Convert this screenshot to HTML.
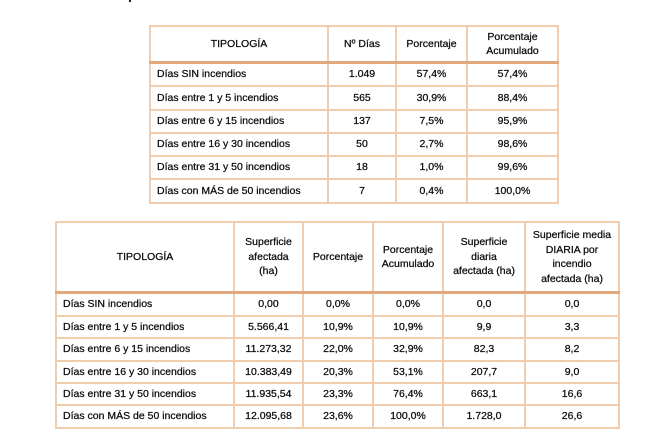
<!DOCTYPE html>
<html><head><meta charset="utf-8">
<style>
html,body{margin:0;padding:0;background:#fff;}
body{width:657px;height:442px;position:relative;overflow:hidden;font-family:"Liberation Sans",Arial,sans-serif;font-size:10.5px;color:#0c0c0c;-webkit-text-stroke:0.25px #0c0c0c;}
.v,.h{position:absolute;background:#f1cdae;}
.v{width:2px;}
.h{height:2px;}
.k{position:absolute;background:#e2a87c;height:3px;}
.c{position:absolute;display:flex;align-items:center;justify-content:center;text-align:center;line-height:14.5px;white-space:nowrap;}
.l{justify-content:flex-start;}
</style></head><body>
<div style="position:absolute;left:129px;top:0;width:2px;height:2px;background:#222;"></div>

<!-- TABLE 1 lines -->
<div class="v" style="left:149px;top:25px;height:179px"></div>
<div class="v" style="left:327px;top:25px;height:179px"></div>
<div class="v" style="left:395px;top:25px;height:179px"></div>
<div class="v" style="left:466px;top:25px;height:179px"></div>
<div class="v" style="left:557px;top:25px;height:179px"></div>
<div class="h" style="left:149px;top:25px;width:410px"></div>
<div class="k" style="left:149px;top:61px;width:410px"></div>
<div class="h" style="left:149px;top:85px;width:410px"></div>
<div class="h" style="left:149px;top:109px;width:410px"></div>
<div class="h" style="left:149px;top:132px;width:410px"></div>
<div class="h" style="left:149px;top:155px;width:410px"></div>
<div class="h" style="left:149px;top:178px;width:410px"></div>
<div class="h" style="left:149px;top:202px;width:410px"></div>

<!-- TABLE 1 text -->
<div class="c" style="left:151px;top:27px;width:176px;height:34px">TIPOLOGÍA</div>
<div class="c" style="left:329px;top:27px;width:66px;height:34px">Nº Días</div>
<div class="c" style="left:397px;top:27px;width:69px;height:34px">Porcentaje</div>
<div class="c" style="left:468px;top:27px;width:89px;height:34px">Porcentaje<br>Acumulado</div>

<div class="c l" style="left:157px;top:64px;width:170px;height:21px">Días SIN incendios</div>
<div class="c" style="left:329px;top:64px;width:66px;height:21px">1.049</div>
<div class="c" style="left:397px;top:64px;width:69px;height:21px">57,4%</div>
<div class="c" style="left:468px;top:64px;width:89px;height:21px">57,4%</div>

<div class="c l" style="left:157px;top:87px;width:170px;height:22px">Días entre 1 y 5 incendios</div>
<div class="c" style="left:329px;top:87px;width:66px;height:22px">565</div>
<div class="c" style="left:397px;top:87px;width:69px;height:22px">30,9%</div>
<div class="c" style="left:468px;top:87px;width:89px;height:22px">88,4%</div>

<div class="c l" style="left:157px;top:111px;width:170px;height:21px">Días entre 6 y 15 incendios</div>
<div class="c" style="left:329px;top:111px;width:66px;height:21px">137</div>
<div class="c" style="left:397px;top:111px;width:69px;height:21px">7,5%</div>
<div class="c" style="left:468px;top:111px;width:89px;height:21px">95,9%</div>

<div class="c l" style="left:157px;top:134px;width:170px;height:21px">Días entre 16 y 30 incendios</div>
<div class="c" style="left:329px;top:134px;width:66px;height:21px">50</div>
<div class="c" style="left:397px;top:134px;width:69px;height:21px">2,7%</div>
<div class="c" style="left:468px;top:134px;width:89px;height:21px">98,6%</div>

<div class="c l" style="left:157px;top:157px;width:170px;height:21px">Días entre 31 y 50 incendios</div>
<div class="c" style="left:329px;top:157px;width:66px;height:21px">18</div>
<div class="c" style="left:397px;top:157px;width:69px;height:21px">1,0%</div>
<div class="c" style="left:468px;top:157px;width:89px;height:21px">99,6%</div>

<div class="c l" style="left:157px;top:180px;width:170px;height:22px">Días con MÁS de 50 incendios</div>
<div class="c" style="left:329px;top:180px;width:66px;height:22px">7</div>
<div class="c" style="left:397px;top:180px;width:69px;height:22px">0,4%</div>
<div class="c" style="left:468px;top:180px;width:89px;height:22px">100,0%</div>

<!-- TABLE 2 lines -->
<div class="v" style="left:55px;top:221px;height:208px"></div>
<div class="v" style="left:233px;top:221px;height:208px"></div>
<div class="v" style="left:302px;top:221px;height:208px"></div>
<div class="v" style="left:372px;top:221px;height:208px"></div>
<div class="v" style="left:442px;top:221px;height:208px"></div>
<div class="v" style="left:524px;top:221px;height:208px"></div>
<div class="v" style="left:618px;top:221px;height:208px"></div>
<div class="h" style="left:55px;top:221px;width:565px"></div>
<div class="k" style="left:55px;top:291px;width:565px"></div>
<div class="h" style="left:55px;top:315px;width:565px"></div>
<div class="h" style="left:55px;top:337px;width:565px"></div>
<div class="h" style="left:55px;top:360px;width:565px"></div>
<div class="h" style="left:55px;top:382px;width:565px"></div>
<div class="h" style="left:55px;top:404px;width:565px"></div>
<div class="h" style="left:55px;top:427px;width:565px"></div>

<!-- TABLE 2 text -->
<div class="c" style="left:57px;top:223px;width:176px;height:68px">TIPOLOGÍA</div>
<div class="c" style="left:235px;top:223px;width:67px;height:68px">Superficie<br>afectada<br>(ha)</div>
<div class="c" style="left:304px;top:223px;width:68px;height:68px">Porcentaje</div>
<div class="c" style="left:374px;top:223px;width:68px;height:68px">Porcentaje<br>Acumulado</div>
<div class="c" style="left:444px;top:223px;width:80px;height:68px">Superficie<br>diaria<br>afectada (ha)</div>
<div class="c" style="left:526px;top:223px;width:92px;height:68px">Superficie media<br>DIARIA por<br>incendio<br>afectada (ha)</div>

<div class="c l" style="left:63px;top:294px;width:170px;height:21px">Días SIN incendios</div>
<div class="c" style="left:235px;top:294px;width:67px;height:21px">0,00</div>
<div class="c" style="left:304px;top:294px;width:68px;height:21px">0,0%</div>
<div class="c" style="left:374px;top:294px;width:68px;height:21px">0,0%</div>
<div class="c" style="left:444px;top:294px;width:80px;height:21px">0,0</div>
<div class="c" style="left:526px;top:294px;width:92px;height:21px">0,0</div>

<div class="c l" style="left:63px;top:317px;width:170px;height:20px">Días entre 1 y 5 incendios</div>
<div class="c" style="left:235px;top:317px;width:67px;height:20px">5.566,41</div>
<div class="c" style="left:304px;top:317px;width:68px;height:20px">10,9%</div>
<div class="c" style="left:374px;top:317px;width:68px;height:20px">10,9%</div>
<div class="c" style="left:444px;top:317px;width:80px;height:20px">9,9</div>
<div class="c" style="left:526px;top:317px;width:92px;height:20px">3,3</div>

<div class="c l" style="left:63px;top:339px;width:170px;height:21px">Días entre 6 y 15 incendios</div>
<div class="c" style="left:235px;top:339px;width:67px;height:21px">11.273,32</div>
<div class="c" style="left:304px;top:339px;width:68px;height:21px">22,0%</div>
<div class="c" style="left:374px;top:339px;width:68px;height:21px">32,9%</div>
<div class="c" style="left:444px;top:339px;width:80px;height:21px">82,3</div>
<div class="c" style="left:526px;top:339px;width:92px;height:21px">8,2</div>

<div class="c l" style="left:63px;top:362px;width:170px;height:20px">Días entre 16 y 30 incendios</div>
<div class="c" style="left:235px;top:362px;width:67px;height:20px">10.383,49</div>
<div class="c" style="left:304px;top:362px;width:68px;height:20px">20,3%</div>
<div class="c" style="left:374px;top:362px;width:68px;height:20px">53,1%</div>
<div class="c" style="left:444px;top:362px;width:80px;height:20px">207,7</div>
<div class="c" style="left:526px;top:362px;width:92px;height:20px">9,0</div>

<div class="c l" style="left:63px;top:384px;width:170px;height:20px">Días entre 31 y 50 incendios</div>
<div class="c" style="left:235px;top:384px;width:67px;height:20px">11.935,54</div>
<div class="c" style="left:304px;top:384px;width:68px;height:20px">23,3%</div>
<div class="c" style="left:374px;top:384px;width:68px;height:20px">76,4%</div>
<div class="c" style="left:444px;top:384px;width:80px;height:20px">663,1</div>
<div class="c" style="left:526px;top:384px;width:92px;height:20px">16,6</div>

<div class="c l" style="left:63px;top:406px;width:170px;height:21px">Días con MÁS de 50 incendios</div>
<div class="c" style="left:235px;top:406px;width:67px;height:21px">12.095,68</div>
<div class="c" style="left:304px;top:406px;width:68px;height:21px">23,6%</div>
<div class="c" style="left:374px;top:406px;width:68px;height:21px">100,0%</div>
<div class="c" style="left:444px;top:406px;width:80px;height:21px">1.728,0</div>
<div class="c" style="left:526px;top:406px;width:92px;height:21px">26,6</div>
</body></html>
